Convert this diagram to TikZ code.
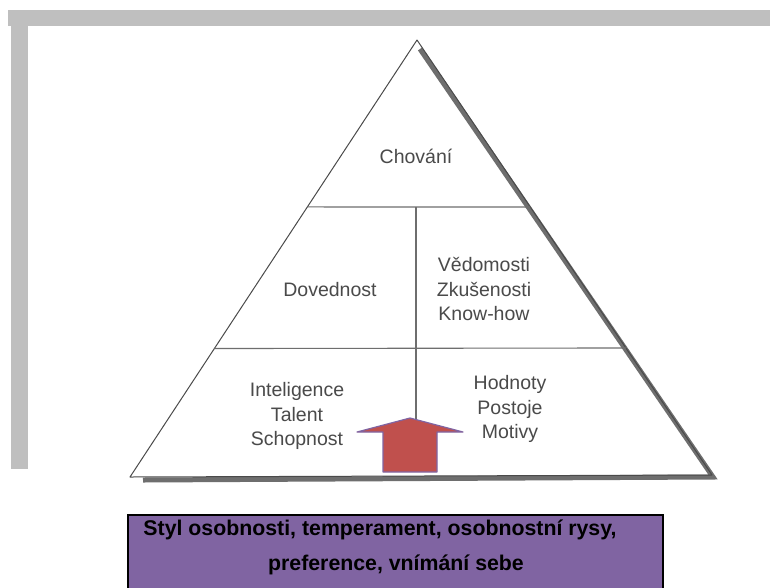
\documentclass[tikz,border=0pt]{standalone}
\usepackage{fontspec}
\setmainfont{Liberation Sans}
\usetikzlibrary{calc}
\definecolor{framegray}{HTML}{BFBFBF}
\definecolor{inkgray}{HTML}{4A4A4A}
\definecolor{shadowgray}{HTML}{6E6E6E}
\definecolor{arrowred}{HTML}{C0504D}
\definecolor{boxpurple}{HTML}{8064A2}
\tikzset{
	level/.style={text=inkgray,align=center,font=\fontsize{19.5}{24.5}\selectfont},
	divider/.style={draw=inkgray!80,line width=1.1pt},
	basetext/.style={anchor=base,font=\fontsize{21.3}{25}\selectfont\bfseries}
}
\begin{document}
\begin{tikzpicture}[x=1pt,y=-1pt]
		\clip (0,0) rectangle (770,587);
		\fill[white] (0,0) rectangle (770,587);
		% frame
		\fill[framegray] (8,10) rectangle (770,25.5);
		\fill[framegray] (11,10) rectangle (28,469);
		% pyramid
		\coordinate (apex) at (417,40);
		\coordinate (bl) at (130,477);
		\coordinate (br) at (712,475);
		\draw[shadowgray,line width=5pt] (420,49) -- (713,477) -- (143,480);
		\draw[inkgray,line width=1pt,line join=round] (bl) -- (apex) -- (br) -- cycle;
		\coordinate (l1) at ($(apex)!0.382!(bl)$);
		\coordinate (r1) at ($(apex)!0.384!(br)$);
		\coordinate (l2) at ($(apex)!0.706!(bl)$);
		\coordinate (r2) at ($(apex)!0.708!(br)$);
		\draw[divider] (l1) -- (r1);
		\draw[divider] (l2) -- (r2);
		\draw[divider] (416,207) -- (416,420);
		% labels
		\node[level] (chovani) at (416,156) {Chování};
		\node[level] (dovednost) at (330,290) {Dovednost};
		\node[level] (vedomosti) at (484,289) {Vědomosti\\Zkušenosti\\Know-how};
		\node[level] (inteligence) at (297,416) {Inteligence\\Talent\\Schopnost};
		\node[level] (hodnoty) at (510,409) {Hodnoty\\Postoje\\Motivy};
		% arrow
		\draw[fill=arrowred,draw=boxpurple,line width=1.2pt,line join=round]
			(383,472) -- (383,432) -- (357,432) -- (410,418) -- (463,432) -- (437,432) -- (437,472) -- cycle;
		% base box
		\draw[fill=boxpurple,draw=black,line width=1.3pt] (128,515) rectangle (663,600);
		\node[basetext] (styl) at (380,535) {Styl osobnosti, temperament, osobnostní rysy,};
		\node[basetext] (sebe) at (396,570) {preference, vnímání sebe};
\end{tikzpicture}
\end{document}
